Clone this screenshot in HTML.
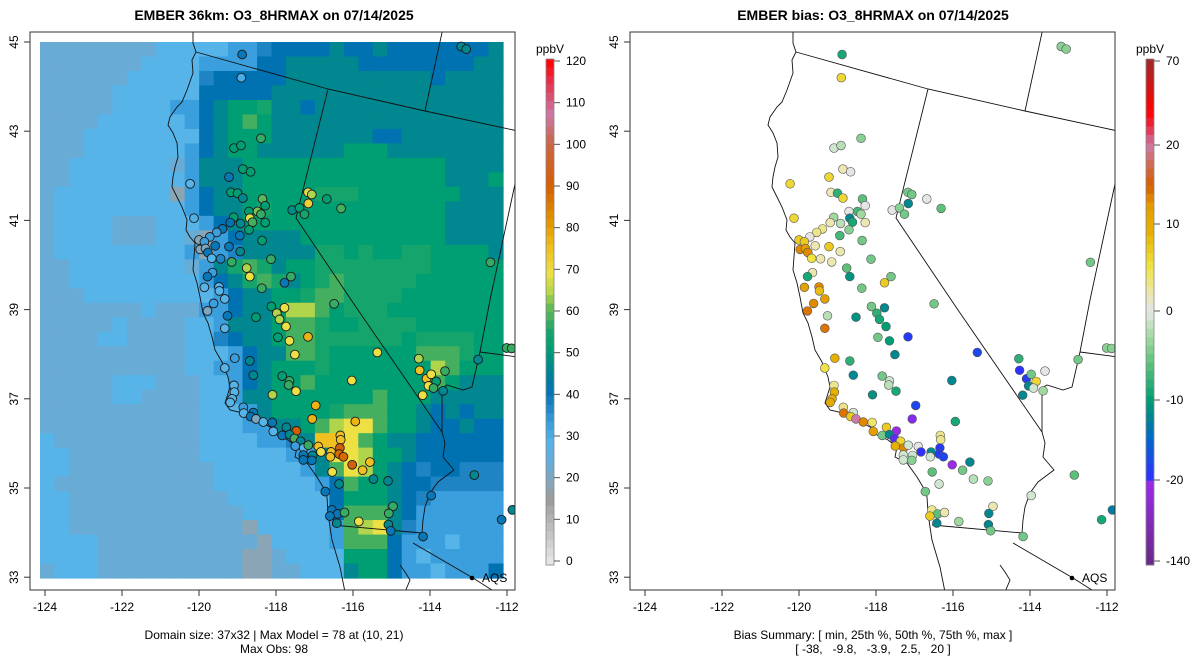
<!DOCTYPE html>
<html><head><meta charset="utf-8">
<style>
html,body{margin:0;padding:0;background:#fff;}
svg{display:block;font-family:"Liberation Sans",Arial,sans-serif;}
</style></head>
<body>
<svg id="root" width="1200" height="672" viewBox="0 0 1200 672" xmlns="http://www.w3.org/2000/svg">
<defs>
<clipPath id="clipL"><rect x="30" y="32" width="485" height="558"/></clipPath>
<clipPath id="clipR"><rect x="630" y="32" width="485" height="558"/></clipPath>
</defs>
<text x="274" y="20" text-anchor="middle" font-size="14" font-weight="bold">EMBER 36km: O3_8HRMAX on 07/14/2025</text>
<text x="873" y="20" text-anchor="middle" font-size="14" font-weight="bold">EMBER bias: O3_8HRMAX on 07/14/2025</text>
<g id="panelL"></g>
<g id="panelR"></g>
<g id="cbarL"></g>
<g id="cbarR"></g>
<text x="274" y="639" text-anchor="middle" font-size="12">Domain size: 37x32 | Max Model = 78 at (10, 21)</text>
<text x="274" y="653" text-anchor="middle" font-size="12">Max Obs: 98</text>
<text x="873" y="639" text-anchor="middle" font-size="12">Bias Summary: [ min, 25th %, 50th %, 75th %, max ]</text>
<text x="873" y="653" text-anchor="middle" font-size="12" xml:space="preserve">[ -38,   -9.8,   -3.9,   2.5,   20 ]</text>
</svg>
<script>
// ---------- data ----------
const lonTicks = [-124,-122,-120,-118,-116,-114,-112];
const latTicks = [45,43,41,39,37,35,33];
const modelTicks = [120,110,100,90,80,70,60,50,40,30,20,10,0];
const biasTicks = [70,20,10,0,-10,-20,-140];
const levelCodes = ['x','g','b','m','d','D','t','e','f','G','y','Y','o'];
const levelValues = [18,23,28,33,37,41,46,51,55,58,64,69,75];
const gridRows = [
"ggggggggbbbbbmmdDDDDtDDtDDDDDDDt",
"gggggggbbbbmmmmDDtttttDDDDDDDDtt",
"ggggggbbbbbdDDDDDttttttttttDtttt",
"gggggbbbbbbDDDDDtttttttttttttttt",
"gggggbbbbmmDteefttDttttttttttttt",
"ggggbbbbbbmDteGetttttttttttttttt",
"gggbbbbbbbbDteeetttttttDDttttttt",
"gggbbbbbbbmDteetttttteeettttttttt".slice(0,32),
"ggbbbbbbbgmttteeeeeeeeeeeeeetttt",
"ggbbbbbbbbmttteeeeeeeeeeeeeettte",
"gbbbbbbbbxmDtteeeeefffeeeeeeettt",
"gbbbbbbbbbmDttefeeeeeeeeeeeetttt",
"gbbbbgggbbbmDteeeeeeeeeeeeeetttt",
"gbbbbgggbbgxmDtttteeeeeeeeeetttt",
"gbbbbbbbbbmxmdtttttffefeeffeeeet",
"ggbbbbbbbbgmtfGfteeffffffffeeeee",
"ggbbbbbbbbbmDtfGftefGfffffeeeeee",
"gggbbbbbbbbbmDtteefGGffffeeeeeee",
"gggggggbgggmmDtteyyGefffeeeeeeee",
"gggggbggggbbmttteGGfeeffffeeeeee",
"ggggbbggggbbdDtteGGffffffeffffee",
"ggggggggggbbbmDttGGfeeeeeeGGGfee",
"ggggggggggbbmmDteeefeeeeeeeyGeee",
"gggggbbbgggbbmDteeGeeeeeeeeGettt",
"gggggbbggggbbmtteeeeeeeGeeettttt",
"gggggggggggbbbmteeeefGGGeetDtDtt",
"gggggggggggbbbmmtteGyYYGeetDDtDD",
"bggggggggggbbbbmmdtooYGettDDDDDD",
"bbgggggggggbbbbbbmmtYYyeetDDDDDD",
"bbggggggggggbbbbbbmtGYyetDdDDddd",
"bgggggggggggbbbbbbbmDGeetDDddddd",
"bbgggggggggggbbbbbbbDeeetDdmmmmm",
"bbggggggggggggbbbbbbDGGGtDmmmmmm",
"bbggggggggggggxbbbbbmGyYtdmmmmmm",
"bbbbgggggggggggxbbbbmGGGDmmmbmmm",
"bbbbggggggggggxxgbbbbeeeDmbmmmmm",
"gbbbggggggggggxxggbbbteeDmmbmmmD"
];
const stationLon = [-118.88,-118.90,-113.19,-113.06,-118.39,-119.09,-118.91,-118.86,-118.66,-119.22,-120.23,-119.17,-119.00,-118.86,-118.35,-118.28,-117.17,-117.07,-117.16,-116.68,-116.31,-117.58,-117.39,-117.26,-120.13,-118.70,-118.48,-118.39,-118.68,-119.10,-119.19,-118.92,-118.61,-118.28,-119.39,-119.54,-118.70,-118.94,-119.72,-120.00,-119.86,-119.58,-119.22,-119.97,-119.83,-119.77,-118.93,-118.36,-119.44,-119.67,-119.15,-118.13,-118.76,-118.68,-119.65,-119.78,-117.61,-117.78,-118.37,-119.86,-119.48,-119.47,-119.33,-119.62,-116.49,-118.12,-117.78,-112.43,-119.78,-119.26,-118.52,-117.98,-117.91,-117.74,-119.33,-117.95,-117.65,-117.17,-117.51,-119.07,-118.68,-119.33,-118.59,-117.84,-117.65,-117.67,-117.48,-118.09,-115.37,-116.03,-116.97,-117.06,-115.94,-119.09,-119.08,-119.14,-119.19,-118.85,-118.59,-118.84,-118.66,-118.52,-118.33,-118.10,-118.07,-117.73,-117.47,-117.84,-117.65,-117.52,-117.36,-117.50,-117.28,-117.16,-116.90,-116.83,-116.57,-116.59,-116.33,-116.32,-116.34,-116.36,-116.25,-116.02,-115.56,-116.54,-115.75,-115.47,-115.09,-116.36,-117.05,-117.29,-117.07,-117.29,-116.72,-116.55,-116.40,-116.22,-116.60,-116.42,-115.85,-114.96,-115.07,-115.08,-115.02,-114.18,-113.97,-112.85,-112.14,-111.86,-114.29,-114.27,-114.09,-113.97,-113.84,-114.04,-113.91,-113.61,-113.66,-114.19,-112.75,-112.01,-111.88];
const stationLat = [44.72,44.20,44.90,44.84,42.84,42.62,42.68,42.15,42.09,41.97,41.82,41.63,41.61,41.50,41.48,41.33,41.63,41.58,41.38,41.48,41.27,41.23,41.28,41.14,41.05,41.20,41.20,41.14,41.05,41.07,40.95,40.93,40.96,40.95,40.81,40.73,40.79,40.66,40.63,40.56,40.52,40.43,40.41,40.35,40.37,40.28,40.30,40.55,40.14,40.15,40.07,40.13,39.93,39.74,39.83,39.74,39.74,39.60,39.48,39.50,39.51,39.42,39.24,39.14,39.13,39.07,39.04,40.06,38.97,38.86,38.83,38.92,38.78,38.62,38.58,38.38,38.30,38.39,37.99,37.91,37.85,37.69,37.53,37.51,37.40,37.31,37.17,37.09,38.04,37.41,36.85,36.55,36.49,37.30,37.15,37.00,36.92,36.81,36.69,36.68,36.60,36.55,36.48,36.47,36.27,36.36,36.28,36.18,36.20,36.11,36.05,35.94,35.90,35.96,35.93,35.81,35.81,35.70,36.18,36.08,35.90,35.76,35.70,35.52,35.58,35.36,35.40,35.20,35.16,35.09,35.73,35.74,35.62,35.63,34.92,34.51,34.42,34.45,34.37,34.21,34.25,34.59,34.43,34.18,34.04,33.91,34.83,35.29,34.29,34.51,37.90,37.64,37.45,37.55,37.39,37.29,37.24,37.62,37.18,37.08,37.88,38.14,38.13];
const obsValue = [40,30,46,46,57,51,51,51,51,40,28,51,51,46,60,51,68,64,72,51,58,47,51,55,29,51,62,57,68,51,41,46,58,51,40,33,51,40,33,18,33,40,40,18,20,40,46,51,37,28,57,57,64,69,33,40,57,40,57,28,28,28,28,33,57,51,69,57,20,40,51,64,64,69,28,51,69,77,69,33,46,28,46,51,57,57,69,64,69,69,77,77,77,28,28,28,28,33,40,28,40,20,28,40,28,46,90,40,46,58,46,33,28,57,75,69,75,75,75,75,92,88,88,92,75,69,75,46,46,46,46,40,40,40,40,40,40,57,40,46,69,57,57,46,40,40,40,46,40,46,64,75,75,69,51,69,57,57,46,69,46,57,57];
const biasValue = [-9,6,-4,-4,-4,-1,-2,2,0,6,6,2,-8,6,-6,0,-5,-5,-12,0,-6,0,-4,-5,6,0,-7,-3,-12,-3,2,-2,-9,2,3,3,-4,-7,0,7,7,2,7,13,12,13,2,-5,2,5,2,-5,-6,-11,2,-9,-5,7,-5,12,13,8,12,13,-5,-5,-12,-5,14,-2,-11,-8,-9,-10,14,-5,-10,-19,-12,9,-8,5,-12,-5,-1,-2,-9,-11,-18,-12,-18,-24,-9,3,9,10,10,3,-1,14,7,20,13,4,12,7,-28,-5,-12,-22,6,9,13,-1,0,-20,-12,-1,3,3,-19,-19,-18,-26,-12,-6,-5,-2,-4,-1,-1,-1,-4,-1,-5,3,-6,2,7,-12,-3,2,-12,-12,-5,-5,-1,-6,-9,-13,-8,-20,-19,-5,6,-12,-1,0,-3,-12,-5,-4,-4];

// ---------- scales ----------
const NS='http://www.w3.org/2000/svg';
const lonToX = lon => 45 + (lon + 124) * 38.5;
const latToY = lat => 42 + (45 - lat) * 44.6;
const modelStops = [[0,'#e5e5e5'],[10,'#b3b3b3'],[15,'#999999'],[18,'#8aa5b5'],[23,'#68abd5'],[28,'#56b4e9'],[33,'#3a9fdc'],[37,'#1f84c4'],[41,'#0072b2'],[46,'#00878f'],[51,'#009e73'],[55,'#15a46c'],[58,'#45af60'],[61,'#66bb55'],[64,'#b0d44c'],[69,'#ece044'],[75,'#efc020'],[80,'#e69f00'],[90,'#d55e00'],[100,'#cc6644'],[107,'#cc79a7'],[115,'#e8304a'],[120,'#ff0000']];
const biasStops = [[-140,'#6a2a8a'],[-25,'#9a2ae8'],[-20,'#3030ff'],[-15,'#0066cc'],[-12,'#00878f'],[-10,'#009e73'],[-6,'#5cc07a'],[-3,'#a0d8a0'],[-1,'#d0e6d0'],[0,'#e5e5e5'],[2,'#ece6b0'],[5,'#f0e442'],[9,'#e6b000'],[12,'#e69f00'],[15,'#d55e00'],[20,'#cc79a7'],[30,'#e8304a'],[40,'#ff0000'],[70,'#a02828']];
function hex(c){return [1,3,5].map(i=>parseInt(c.substr(i,2),16));}
function interp(stops,v){
  if(v<=stops[0][0])return stops[0][1];
  for(let i=1;i<stops.length;i++){
    if(v<=stops[i][0]){
      const a=stops[i-1],b=stops[i],t=(v-a[0])/(b[0]-a[0]);
      const ca=hex(a[1]),cb=hex(b[1]);
      return 'rgb('+ca.map((x,k)=>Math.round(x+(cb[k]-x)*t)).join(',')+')';
    }
  }
  return stops[stops.length-1][1];
}
const biasBarVals=[70,20,10,0,-10,-20,-140];
const biasBarY=[61,145,224,311,400,480,561];
function biasToY(v){
  for(let i=1;i<biasBarVals.length;i++){
    if(v>=biasBarVals[i]){const t=(v-biasBarVals[i-1])/(biasBarVals[i]-biasBarVals[i-1]);return biasBarY[i-1]+t*(biasBarY[i]-biasBarY[i-1]);}
  }
  return 561;
}
function mk(tag,attrs,parent){const e=document.createElementNS(NS,tag);for(const k in attrs)e.setAttribute(k,attrs[k]);parent.appendChild(e);return e;}

// ---------- map outlines (pixel paths in left-panel frame) ----------
const coast=[[193,30],[193,43],[196,52],[192,60],[193,73],[187,90],[182,102],[177,107],[170,117],[168,125],[173,133],[177,143],[178,157],[175,167],[173,177],[172,187],[177,197],[182,207],[187,220],[186,230],[190,237],[195,243],[194,257],[193,270],[197,283],[200,297],[203,313],[208,323],[212,337],[215,350],[222,362],[228,377],[230,387],[225,403],[230,410],[243,413],[257,420],[270,427],[277,435],[288,440],[297,447],[295,457],[307,463],[317,477],[323,487],[327,497],[328,513],[330,527],[332,540],[337,557],[340,567],[345,592]];
const borders=[
 [[196,52],[328,89],[425,111],[518,131]],
 [[443,28],[425,111]],
 [[328,89],[296,218],[358,310],[442,432]],
 [[442,388],[447,385],[463,390],[472,387],[480,352],[490,300],[518,170]],
 [[480,352],[518,357]],
 [[442,388],[442,432],[445,443],[443,457],[454,470],[438,482],[430,493],[425,507],[423,520],[422,533]],
 [[332,525],[422,533]],
 [[413,543],[473,578],[495,592]],
 [[400,565],[405,572],[410,580],[405,592]]
];

function drawPanel(gid,off,clip,isBias){
  const g=document.getElementById(gid);
  const inner=mk('g',{'clip-path':'url(#'+clip+')'},g);
  if(!isBias){
    const cw=(503-40)/32,ch=(578-42)/37;
    gridRows.forEach((row,r)=>{
      for(let c=0;c<32;c++){
        const v=levelValues[levelCodes.indexOf(row[c])];
        const rc=mk('rect',{x:(40+c*cw).toFixed(2),y:(42+r*ch).toFixed(2),width:(cw+0.6).toFixed(2),height:(ch+0.6).toFixed(2),fill:interp(modelStops,v)},inner);
        
        
      }
    });
  }
  const lines=mk('g',{transform:'translate('+off+',0)',fill:'none',stroke:'#111','stroke-width':'0.9'},inner);
  
  
  mk('polyline',{points:coast.map(p=>p.join(',')).join(' ')},lines);
  borders.forEach(b=>mk('polyline',{points:b.map(p=>p.join(',')).join(' ')},lines));
  const dots=mk('g',{},inner);
  for(let i=0;i<stationLon.length;i++){
    const v=isBias?biasValue[i]:obsValue[i];
    const c=mk('circle',{cx:(lonToX(stationLon[i])+off).toFixed(1),cy:latToY(stationLat[i]).toFixed(1),r:4.4,fill:interp(isBias?biasStops:modelStops,v),stroke:isBias?'#555':'#1a1a1a','stroke-width':isBias?0.6:0.9},dots);
    
    
  }
  mk('circle',{cx:472+off,cy:578,r:2.3,fill:'#000'},inner);
  const aq=mk('text',{x:482+off,y:582,'font-size':12},g);aq.textContent='AQS';
  
  
  const fr=mk('rect',{x:30+off,y:32,width:485,height:558,fill:'none',stroke:'#333','stroke-width':1},g);
  
  
  lonTicks.forEach(t=>{
    const x=lonToX(t)+off;
    mk('line',{x1:x,y1:590,x2:x,y2:596,stroke:'#333'},g);
    const tx=mk('text',{x:x,y:611,'text-anchor':'middle','font-size':12},g);tx.textContent=t;
    
    
  });
  latTicks.forEach(t=>{
    const y=latToY(t);
    mk('line',{x1:30+off,y1:y,x2:24+off,y2:y,stroke:'#333'},g);
    const tx=mk('text',{x:18+off,y:y,'text-anchor':'middle','font-size':12,transform:'rotate(-90 '+(18+off)+' '+y+')'},g);tx.textContent=t;
    
    
  });
}
drawPanel('panelL',0,'clipL',false);
drawPanel('panelR',600,'clipR',true);

function drawBar(gid,x0,isBias){
  const g=document.getElementById(gid);
  const n=60;
  for(let i=0;i<n;i++){
    const y1=59+i*(506/n);
    const yc=y1+506/n/2;
    let v;
    if(isBias){
      let lo=-140,hi=70;for(let k=0;k<40;k++){const m=(lo+hi)/2;if(biasToY(m)>yc)lo=m;else hi=m;}v=(lo+hi)/2;
    } else v=120-(yc-61)/500*120;
    const r=mk('rect',{x:x0,y:y1.toFixed(2),width:8,height:(506/n+0.5).toFixed(2),fill:interp(isBias?biasStops:modelStops,v)},g);
    
    
  }
  mk('rect',{x:x0,y:59,width:8,height:506,fill:'none',stroke:'#888','stroke-width':0.8},g);
  const u=mk('text',{x:x0+4,y:53,'text-anchor':'middle','font-size':12},g);u.textContent='ppbV';
  
  
  const ticks=isBias?biasTicks:modelTicks;
  ticks.forEach(t=>{
    const y=isBias?biasToY(t):61+(120-t)/120*500;
    mk('line',{x1:x0+8,y1:y,x2:x0+14,y2:y,stroke:'#555'},g);
    const tx=mk('text',{x:x0+20,y:y+4,'font-size':12},g);tx.textContent=t;
    
    
  });
}
drawBar('cbarL',546,false);
drawBar('cbarR',1146,true);
</script>
</body></html>
